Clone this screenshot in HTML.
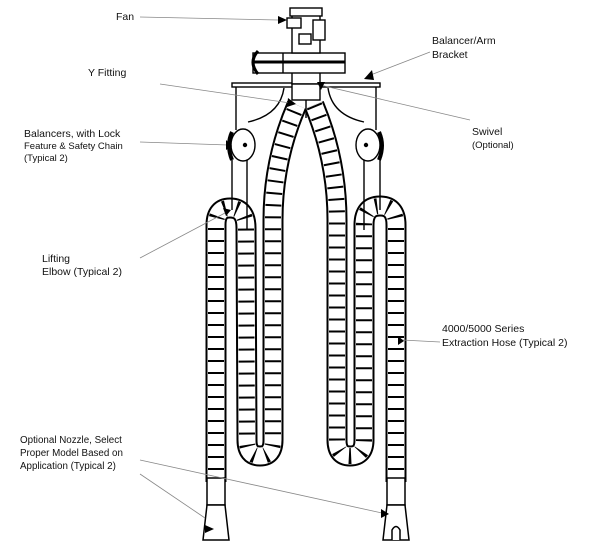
<!DOCTYPE html>
<html><head><style>
html,body{margin:0;padding:0;background:#fff;}
svg{display:block;}
text{font-family:"Liberation Sans",sans-serif;font-size:10.5px;fill:#111;}
</style></head><body>
<svg width="600" height="548" viewBox="0 0 600 548" xmlns="http://www.w3.org/2000/svg">
<g fill="none" stroke-linecap="butt">
<path id="h1" d="M216 482 L216 225 Q216 208 230 208 Q246 208 246 228 L247 440 Q247 456 260 456 Q273 456 273 440 L273 220 Q273 160 297 105"/>
<path id="h2" d="M396 482 L396 225 Q396 206 380 206 Q364 206 364 225 L364 440 Q364 456 350 456 Q337 456 337 440 L337 220 Q337 160 314 105"/>
</g>
<g fill="none">
<use href="#h1" stroke="#000" stroke-width="21"/>
<use href="#h1" stroke="#fff" stroke-width="17"/>
<use href="#h1" stroke="#000" stroke-width="16" stroke-dasharray="2 10"/>
<use href="#h2" stroke="#000" stroke-width="21"/>
<use href="#h2" stroke="#fff" stroke-width="17"/>
<use href="#h2" stroke="#000" stroke-width="16" stroke-dasharray="2 10"/>
</g>
<g fill="#fff" stroke="#000" stroke-width="1.5">
<rect x="207" y="478" width="18" height="27"/>
<path d="M207 505 L225 505 L229 540 L203 540 Z"/>
<rect x="387" y="478" width="18" height="27"/>
<path d="M387 505 L405 505 L409 540 L383 540 Z"/>
<path d="M392 540 L392 530 Q396 523 400 530 L400 540" />
</g>
<path d="M205 525 L214 529 L205 533 Z" fill="#000"/>
<g stroke="#000" fill="none" stroke-width="1.4">
<rect x="232" y="83" width="148" height="4" fill="#fff"/>
<line x1="236" y1="87" x2="236" y2="130"/><line x1="376" y1="87" x2="376" y2="130"/>
<path d="M284 88 Q280 115 248 122"/><path d="M328 88 Q332 115 364 122"/>
<line x1="232" y1="160" x2="232" y2="210"/><line x1="380" y1="160" x2="380" y2="210"/>
<line x1="247" y1="160" x2="247" y2="230"/><line x1="364" y1="160" x2="364" y2="230"/>
</g>
<g stroke="#000" fill="#fff" stroke-width="1.4">
<rect x="292" y="72" width="28" height="12"/>
<rect x="292" y="84" width="28" height="16"/>
<line x1="306" y1="100" x2="306" y2="118"/>
</g>
<g stroke="#000" stroke-width="1.4" fill="#fff">
<ellipse cx="243" cy="145" rx="12" ry="16"/>
<path d="M232 132 Q226 145 232 160" stroke-width="4" fill="none"/>
<circle cx="245" cy="145" r="1.5" fill="#000"/>
<ellipse cx="368" cy="145" rx="12" ry="16"/>
<path d="M379 132 Q385 145 379 160" stroke-width="4" fill="none"/>
<circle cx="366" cy="145" r="1.5" fill="#000"/>
</g>
<g stroke="#000" stroke-width="1.4" fill="#fff">
<rect x="253" y="53" width="92" height="20"/>
<line x1="253" y1="62" x2="345" y2="62" stroke-width="3"/>
<path d="M258 51 Q248 62 258 74" stroke-width="3" fill="none"/>
<line x1="283" y1="53" x2="283" y2="73"/>
<rect x="292" y="15" width="28" height="38"/>
<rect x="290" y="8" width="32" height="8"/>
<rect x="287" y="18" width="14" height="10"/>
<rect x="313" y="20" width="12" height="20"/>
<rect x="299" y="34" width="12" height="10"/>
</g>
<g stroke="#888" stroke-width="0.8" fill="none">
<line x1="140" y1="17" x2="278" y2="20"/>
<line x1="430" y1="52" x2="368" y2="76"/>
<line x1="160" y1="84" x2="290" y2="103"/>
<line x1="470" y1="120" x2="320" y2="85"/>
<line x1="140" y1="142" x2="228" y2="145"/>
<line x1="140" y1="258" x2="225" y2="213"/>
<line x1="440" y1="342" x2="402" y2="340"/>
<line x1="140" y1="474" x2="205" y2="518"/>
<line x1="140" y1="460" x2="382" y2="513"/>
</g>
<g fill="#000">
<path d="M278 16 L287 20 L278 24 Z"/>
<path d="M364 79 L372 70 L374 80 Z"/>
<path d="M288 98 L296 104 L287 107 Z"/>
<path d="M317 82 L325 82 L321 90 Z"/>
<path d="M226 140 L232 146 L226 150 Z"/>
<path d="M223 208 L231 210 L226 216 Z"/>
<path d="M398 336 L404 341 L398 345 Z"/>
<path d="M381 509 L389 514 L381 518 Z"/>
</g>
<text x="116" y="20">Fan</text>
<text x="432" y="44">Balancer/Arm</text>
<text x="432" y="58">Bracket</text>
<text x="88" y="76">Y Fitting</text>
<text x="24" y="137">Balancers, with Lock</text>
<text x="24" y="149" style="font-size:9.5px">Feature &amp; Safety Chain</text>
<text x="24" y="161" style="font-size:9.5px">(Typical 2)</text>
<text x="472" y="135">Swivel</text>
<text x="472" y="148" style="font-size:9.5px">(Optional)</text>
<text x="42" y="262">Lifting</text>
<text x="42" y="275">Elbow (Typical 2)</text>
<text x="442" y="332">4000/5000 Series</text>
<text x="442" y="346">Extraction Hose (Typical 2)</text>
<text x="20" y="443" style="font-size:9.8px">Optional Nozzle, Select</text>
<text x="20" y="456" style="font-size:9.8px">Proper Model Based on</text>
<text x="20" y="469" style="font-size:9.8px">Application (Typical 2)</text>
</svg>
</body></html>
